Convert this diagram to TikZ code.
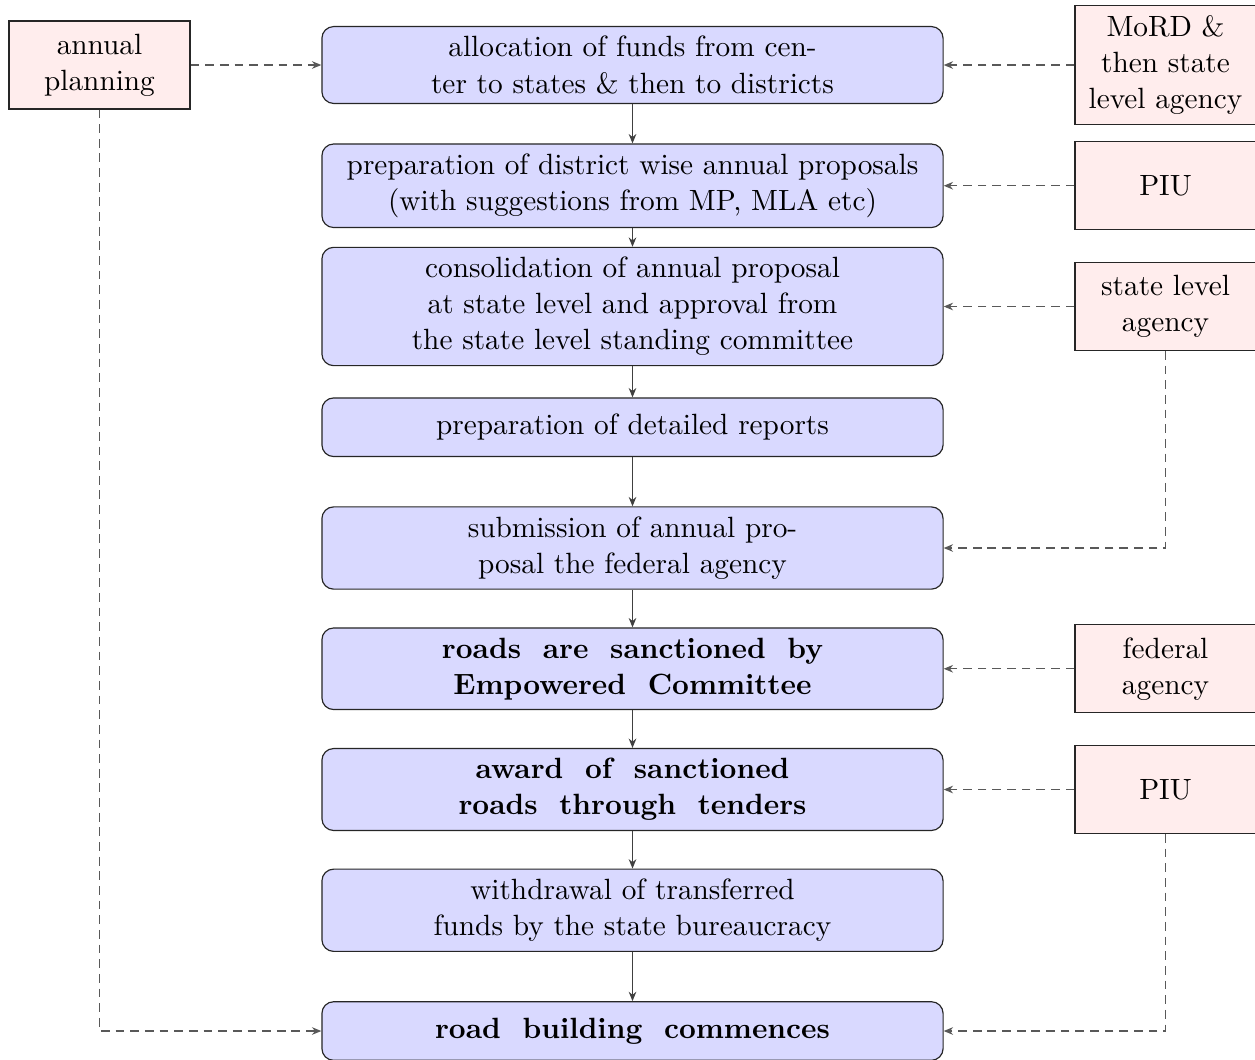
\documentclass[tikz,border=0pt]{standalone}
\usetikzlibrary{arrows.meta}
\newcommand\widewordspace{\spaceskip=7.4pt\relax}
\begin{document}
\begin{tikzpicture}[x={(0.3413pt,0)},y={(0,-0.3413pt)},
  every node/.style={execute at begin node={\setlength\baselineskip{12.3pt}}},
  mainbox/.style={draw=black!85,fill=blue!15,rounded corners=4pt,minimum width=212pt,minimum height=2em,align=center,inner sep=0.3333em},
  sidebox/.style={draw=black!85,fill=red!7,minimum width=61.8pt,minimum height=3em,align=center,inner sep=0.3333em},
  boldtext/.style={font=\bfseries\widewordspace},
  flow/.style={draw=black!75,-{Stealth[length=3.2pt,width=2.6pt]}},
  dasharrow/.style={draw=black!65,densely dashed,-{Stealth[length=3.2pt,width=2.6pt]}}]
\useasboundingbox (0,0) rectangle (1255,1059);
\node[mainbox] (b1) at (632.5,65) {allocation of funds from cen-\\ter to states \& then to districts};
\node[mainbox] (b2) at (632.5,185.75) {preparation of district wise annual proposals\\(with suggestions from MP, MLA etc)};
\node[mainbox] (b3) at (632.5,306.5) {consolidation of annual proposal\\at state level and approval from\\the state level standing committee};
\node[mainbox] (b4) at (632.5,427.25) {preparation of detailed reports};
\node[mainbox] (b5) at (632.5,548) {submission of annual pro-\\posal the federal agency};
\node[mainbox,boldtext] (b6) at (632.5,668.75) {roads are sanctioned by\\Empowered Committee};
\node[mainbox,boldtext] (b7) at (632.5,789.5) {award of sanctioned\\roads through tenders};
\node[mainbox] (b8) at (632.5,910.25) {withdrawal of transferred\\funds by the state bureaucracy};
\node[mainbox,boldtext] (b9) at (632.5,1031) {road building commences};
\node[sidebox] (L) at (99.5,65) {annual\\planning};
\node[sidebox] (R1) at (1165.5,65) {MoRD \&\\then state\\level agency};
\node[sidebox] (R2) at (1165.5,185.75) {PIU};
\node[sidebox] (R3) at (1165.5,306.5) {state level\\agency};
\node[sidebox] (R4) at (1165.5,668.75) {federal\\agency};
\node[sidebox] (R5) at (1165.5,789.5) {PIU};
\draw[flow] (b1) -- (b2);
\draw[flow] (b2) -- (b3);
\draw[flow] (b3) -- (b4);
\draw[flow] (b4) -- (b5);
\draw[flow] (b5) -- (b6);
\draw[flow] (b6) -- (b7);
\draw[flow] (b7) -- (b8);
\draw[flow] (b8) -- (b9);
\draw[dasharrow] (L) -- (b1);
\draw[dasharrow] (R1) -- (b1);
\draw[dasharrow] (R2) -- (b2);
\draw[dasharrow] (R3) -- (b3);
\draw[dasharrow] (R4) -- (b6);
\draw[dasharrow] (R5) -- (b7);
\draw[dasharrow] (L.south) |- (b9.west);
\draw[dasharrow] (R3.south) |- (b5.east);
\draw[dasharrow] (R5.south) |- (b9.east);
\end{tikzpicture}
\end{document}
